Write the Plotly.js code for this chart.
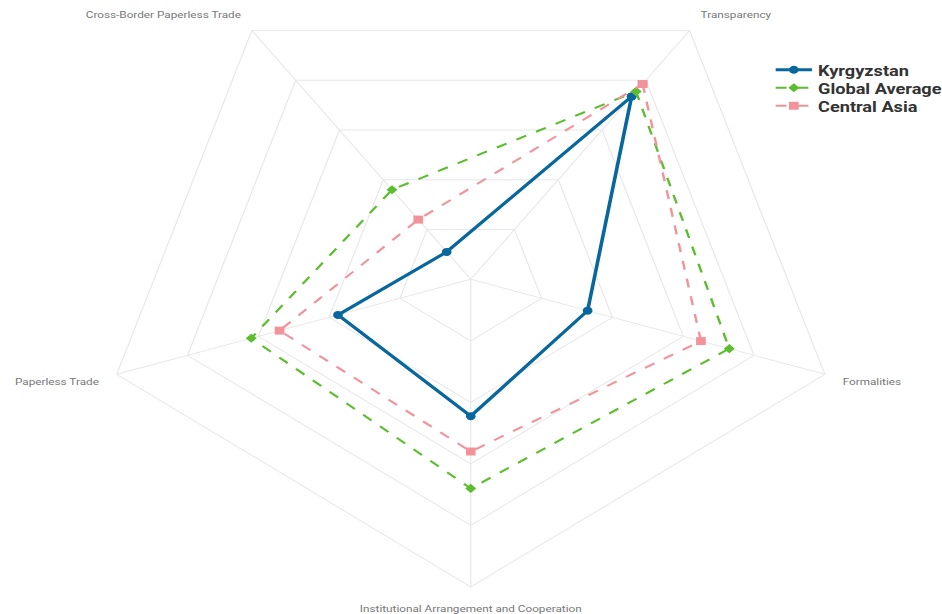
<!DOCTYPE html>
<html>
<head>
<meta charset="utf-8">
<script src="https://cdn.plot.ly/plotly-3.0.1.min.js"></script>
<style>
  html, body { margin: 0; padding: 0; background: #ffffff; overflow: hidden; width: 942px; height: 614px; }
  #chart { position: absolute; left: 0; top: -60px; width: 778px; height: 700px; transform: scaleX(1.2108); transform-origin: 0 0; }
</style>
</head>
<body>
<div id="chart"></div>
<script>
const categories = ["Transparency", "Formalities", "Institutional Arrangement and Cooperation", "Paperless Trade", "Cross-Border Paperless Trade"];
const kyrgyzstan = [73.5, 33, 44.5, 37.5, 11];
const globalAverage = [75.5, 73, 68, 62, 36];
const centralAsia = [78.5, 65, 56, 54, 24];

function closeLoop(arr) { return arr.concat([arr[0]]); }

const traces = [
  {
    type: "scatterpolar", mode: "lines+markers", name: "Kyrgyzstan", legend: "legend",
    r: closeLoop(kyrgyzstan), theta: closeLoop(categories),
    line: { color: "#08679c", width: 3 },
    marker: { symbol: "circle", size: 8, color: "#08679c" }
  },
  {
    type: "scatterpolar", mode: "lines+markers", name: "Global Average", legend: "legend2",
    r: closeLoop(globalAverage), theta: closeLoop(categories),
    line: { color: "#5cbd2e", width: 2, dash: "dash" },
    marker: { symbol: "diamond", size: 7, color: "#5cbd2e" }
  },
  {
    type: "scatterpolar", mode: "lines+markers", name: "Central Asia", legend: "legend3",
    r: closeLoop(centralAsia), theta: closeLoop(categories),
    line: { color: "#f2939b", width: 2, dash: "dash" },
    marker: { symbol: "square", size: 8, color: "#f2939b" }
  }
];

const legendFont = { family: "Roboto, Arial, sans-serif", size: 15, color: "#333", weight: "bold" };
function legendAt(y) {
  return { x: 0.817, y: y, xanchor: "left", yanchor: "middle", font: legendFont,
           bgcolor: "rgba(0,0,0,0)", borderwidth: 0, itemwidth: 30 };
}

const layout = {
  width: 778, height: 700,
  margin: { l: 0, r: 0, t: 0, b: 0, autoexpand: false },
  paper_bgcolor: "#ffffff",
  font: { family: "Roboto, Arial, sans-serif", color: "#555" },
  showlegend: true,
  legend: legendAt(0.8143),
  legend2: legendAt(0.7886),
  legend3: legendAt(0.7629),
  polar: {
    domain: { x: [0.1045, 0.895], y: [0.076, 0.9546] },
    gridshape: "linear",
    bgcolor: "#ffffff",
    radialaxis: {
      range: [0, 100], dtick: 20, showticklabels: false, ticks: "",
      showline: false, gridcolor: "#e8e8e8", gridwidth: 1
    },
    angularaxis: {
      rotation: 54, direction: "clockwise",
      gridcolor: "#e8e8e8", linecolor: "#e8e8e8", showline: true,
      ticks: "outside", ticklen: 13, tickcolor: "rgba(0,0,0,0)",
      tickfont: { size: 9.7, color: "#777" }
    }
  }
};

Plotly.newPlot("chart", traces, layout, { displayModeBar: false, staticPlot: true });
</script>
</body>
</html>
